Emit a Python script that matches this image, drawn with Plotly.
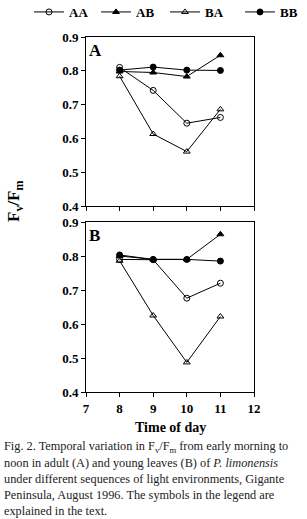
import plotly.graph_objects as go

hours = [8, 9, 10, 11]
series = ["AA", "AB", "BA", "BB"]
panel_a = {
    "AA": [0.81, 0.742, 0.645, 0.662],
    "AB": [0.798, 0.795, 0.783, 0.846],
    "BA": [0.784, 0.613, 0.561, 0.686],
    "BB": [0.802, 0.811, 0.802, 0.801],
}
panel_b = {
    "AA": [0.79, 0.789, 0.676, 0.72],
    "AB": [0.8, 0.79, 0.79, 0.864],
    "BA": [0.786, 0.625, 0.487, 0.622],
    "BB": [0.803, 0.79, 0.79, 0.785],
}
y_ticks = [0.4, 0.5, 0.6, 0.7, 0.8, 0.9]
x_ticks = [7, 8, 9, 10, 11, 12]
symbols = {"AA": "circle-open", "AB": "triangle-up", "BA": "triangle-up-open", "BB": "circle"}
legend_of = {"AA": "legend", "AB": "legend", "BA": "legend2", "BB": "legend2"}

caption_lines = [
    "Fig. 2. Temporal variation in F<sub>v</sub>/F<sub>m</sub> from early morning to",
    "noon in adult (A) and young leaves (B) of <i>P. limonensis</i>",
    "under different sequences of light environments, Gigante",
    "Peninsula, August 1996. The symbols in the legend are",
    "explained in the text.",
]

W, H = 307, 519
L, R = 86, 53
PW = W - L - R
def py(px):
    return 1 - px / H
def px_x(px):
    return (px - L) / PW

fig = go.Figure()
for s in series:
    for i, (data, xa, ya) in enumerate([(panel_a, "x", "y"), (panel_b, "x2", "y2")]):
        fig.add_trace(go.Scatter(
            x=hours, y=data[s], xaxis=xa, yaxis=ya, mode="lines+markers",
            name=s, legendgroup=s, showlegend=(i == 0), legend=legend_of[s],
            line=dict(color="black", width=1),
            marker=dict(symbol=symbols[s], size=6, color="black",
                        line=dict(color="black", width=1)),
        ))

serif = "Liberation Serif"
axis_common = dict(showline=True, linecolor="black", linewidth=1, mirror=True,
                   ticks="outside", ticklen=4, tickcolor="black", showgrid=False,
                   zeroline=False, tickfont=dict(family=serif, size=13, color="black", weight="bold"))
legend_common = dict(orientation="h", xanchor="left", y=py(12), yanchor="middle",
                     font=dict(family=serif, size=13, color="black", weight="bold"),
                     entrywidthmode="pixels",
                     bgcolor="rgba(0,0,0,0)", tracegroupgap=0)

fig.update_layout(
    width=W, height=H, paper_bgcolor="white", plot_bgcolor="white",
    margin=dict(l=L, r=R, t=0, b=0, autoexpand=False),
    showlegend=True,
    legend=dict(x=px_x(29), entrywidth=22, **legend_common),
    legend2=dict(x=px_x(165), entrywidth=30, **legend_common),
    xaxis=dict(domain=[0, 1], range=[7, 12], tickvals=x_ticks, showticklabels=False,
               anchor="y", **axis_common),
    yaxis=dict(domain=[py(206), py(37)], range=[0.4, 0.9], tickvals=y_ticks,
               tickformat=".1f", anchor="x", **axis_common),
    xaxis2=dict(domain=[0, 1], range=[7, 12], tickvals=x_ticks, anchor="y2", **axis_common),
    yaxis2=dict(domain=[py(392), py(222)], range=[0.4, 0.9], tickvals=y_ticks,
                tickformat=".1f", anchor="x2", **axis_common),
)

anns = [
    dict(text="<b>A</b>", x=7.02, y=0.895, xref="x", yref="y", xanchor="left", yanchor="top",
         showarrow=False, font=dict(family=serif, size=17, color="black")),
    dict(text="<b>B</b>", x=7.02, y=0.895, xref="x2", yref="y2", xanchor="left", yanchor="top",
         showarrow=False, font=dict(family=serif, size=17, color="black")),
    dict(text="<b>F<sub>v</sub>/F<sub>m</sub></b>", x=px_x(15), y=py(202), xref="paper", yref="paper",
         textangle=-90, showarrow=False, xanchor="center", yanchor="middle",
         font=dict(family=serif, size=17, color="black")),
    dict(text="<b>Time of day</b>", x=0.5, y=py(427), xref="paper", yref="paper",
         showarrow=False, xanchor="center", yanchor="middle",
         font=dict(family=serif, size=14, color="black")),
]
for k, line in enumerate(caption_lines):
    anns.append(dict(text=line, x=px_x(2), y=py(447 + k * 16), xref="paper", yref="paper",
                     showarrow=False, xanchor="left", yanchor="middle", align="left",
                     font=dict(family=serif, size=12.3, color="#222")))
fig.update_layout(annotations=anns)

fig.write_html("out.html")
